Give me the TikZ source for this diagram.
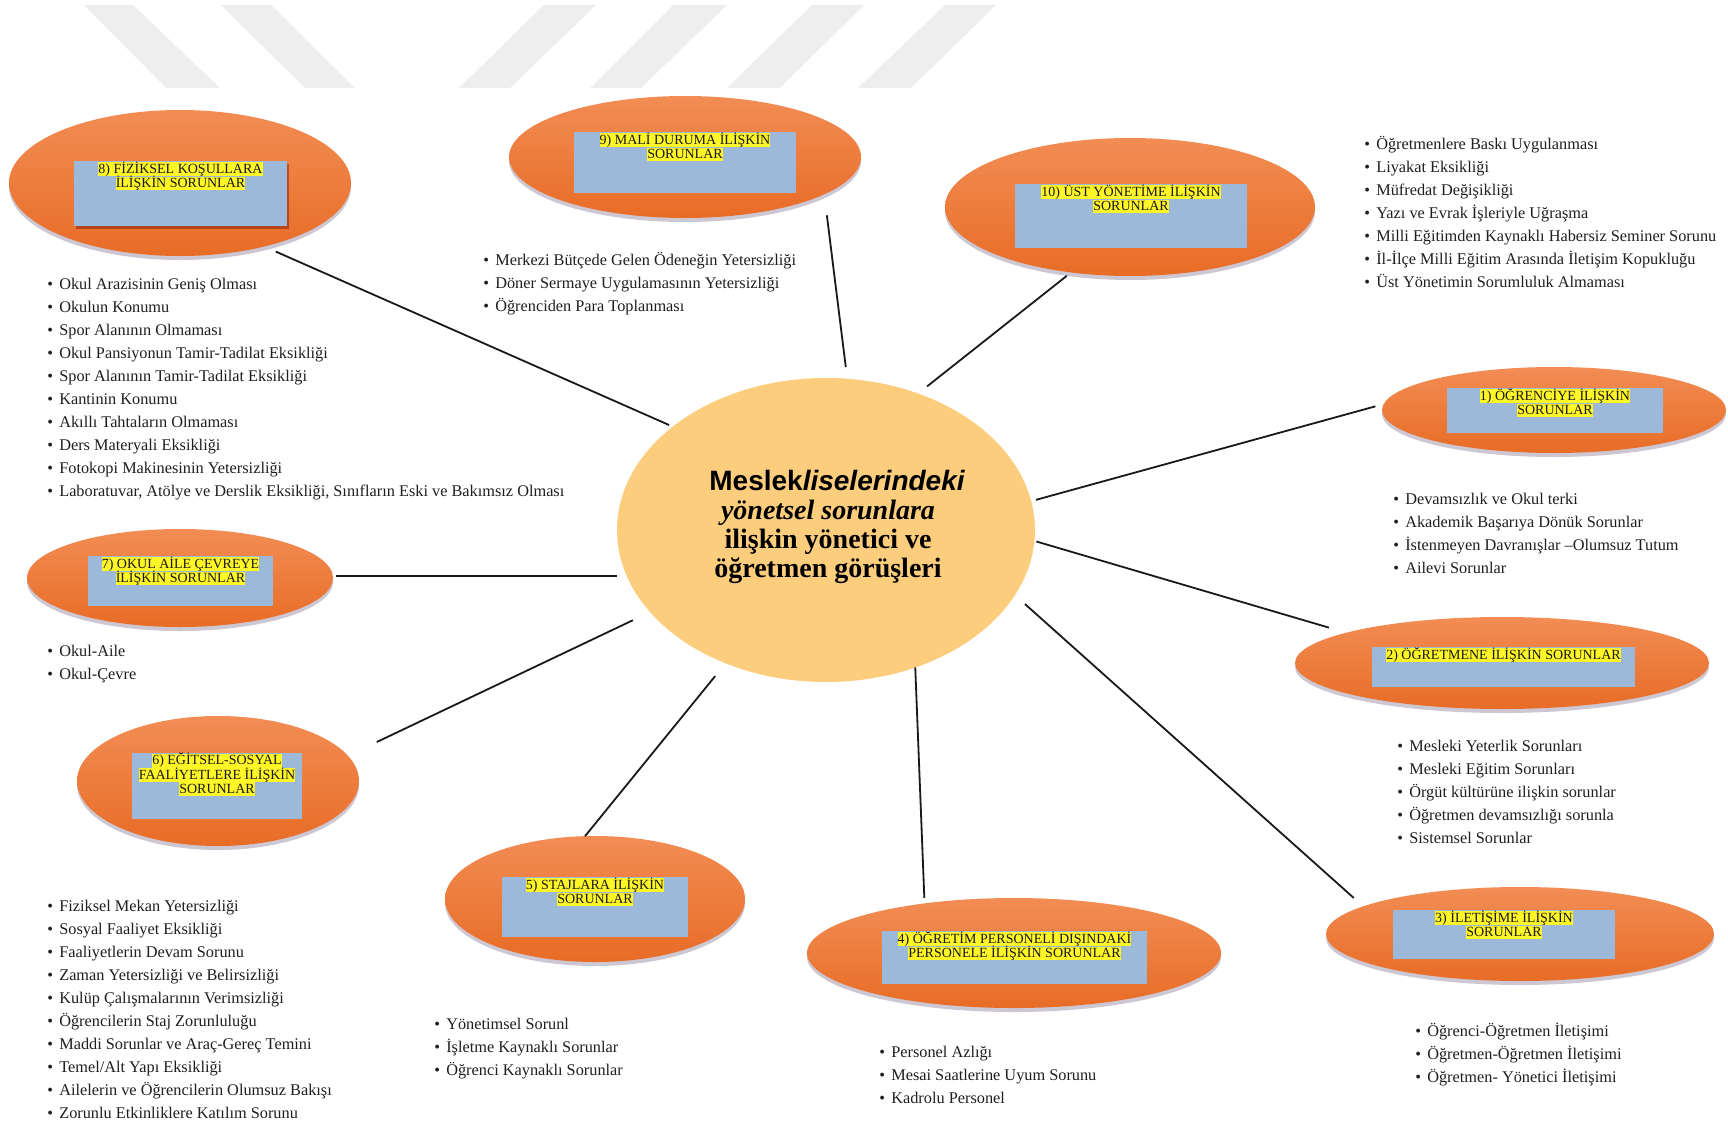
\documentclass[tikz,border=0pt]{standalone}
\usepackage{fontspec}
\setmainfont{Liberation Serif}
\newfontfamily\arialfont{Liberation Sans}
\usetikzlibrary{shadows,shapes.geometric}
\definecolor{otop}{RGB}{242,141,84}
\definecolor{obot}{RGB}{232,108,38}
\definecolor{cfill}{RGB}{252,205,124}
\definecolor{rblue}{RGB}{156,185,218}
\definecolor{hly}{RGB}{255,246,40}
\definecolor{wm}{RGB}{238,238,238}
\definecolor{shad}{RGB}{90,70,110}
\newcommand\hlt[1]{{\setlength\fboxsep{0pt}\colorbox{hly}{\vrule height 5.5pt depth 1.4pt width 0pt\smash{#1}}}}
\newcommand\bli[1]{\strut\textbullet\hspace{0.38em}#1}
\tikzset{
  subell/.style={ellipse, inner sep=0pt, outer sep=0pt, top color=otop, bottom color=obot,
    drop shadow={opacity=0.3, shadow xshift=0pt, shadow yshift=-2pt, fill=shad}},
  blrect/.style={rectangle, fill=rblue, inner sep=0pt, outer sep=0pt},
  lbl/.style={anchor=north, inner sep=0pt, align=center, font=\fontsize{7}{7.15}\selectfont, text=black!90},
  lst/.style={anchor=north west, inner sep=0pt, align=left, font=\fontsize{8.15}{11.5}\selectfont, text=black!88},
  conn/.style={draw=black!90, line width=0.9pt},
}
\begin{document}
\begin{tikzpicture}[x=0.5pt,y=-0.5pt]
\useasboundingbox (0,0) rectangle (1728,1124);
\fill[white] (0,0) rectangle (1728,1124);
% watermark stripes
\fill[wm] (84,5) -- (133,5) -- (220,88) -- (166,88) -- cycle;
\fill[wm] (221,5) -- (271,5) -- (355,88) -- (305,88) -- cycle;
\fill[wm] (544,5) -- (596,5) -- (510,88) -- (459,88) -- cycle;
\fill[wm] (673,5) -- (727,5) -- (641,88) -- (590,88) -- cycle;
\fill[wm] (812,5) -- (864,5) -- (780,88) -- (727,88) -- cycle;
\fill[wm] (945,5) -- (996,5) -- (911,88) -- (858,88) -- cycle;

% center
\node[ellipse, inner sep=0pt, outer sep=0pt, fill=cfill, minimum width=209pt, minimum height=152pt] (c) at (826,530) {};
\node[inner sep=0pt, align=center, font=\fontsize{14}{14.5}\selectfont] (ct) at (828,527)
 {\hspace*{9pt}{\arialfont\bfseries Meslek\itshape liselerindeki}\\
  {\bfseries\itshape yönetsel sorunlara}\\
  {\bfseries ilişkin yönetici ve}\\
  {\bfseries öğretmen görüşleri}};

% sub ellipses
\node[subell, minimum width=171pt, minimum height=73pt] (e8) at (180,183) {};
\node[subell, minimum width=176pt, minimum height=61pt] (e9) at (685,157) {};
\node[subell, minimum width=185pt, minimum height=69pt] (e10) at (1130,207) {};
\node[subell, minimum width=172pt, minimum height=43pt] (e1) at (1554,410) {};
\node[subell, minimum width=207pt, minimum height=46pt] (e2) at (1502,663) {};
\node[subell, minimum width=194pt, minimum height=47pt] (e3) at (1520,934) {};
\node[subell, minimum width=207pt, minimum height=55pt] (e4) at (1014,953) {};
\node[subell, minimum width=150pt, minimum height=63pt] (e5) at (595,899) {};
\node[subell, minimum width=141pt, minimum height=65pt] (e6) at (218,781) {};
\node[subell, minimum width=153pt, minimum height=49pt] (e7) at (180,578) {};

% rectangles
\node[blrect, minimum width=106.5pt, minimum height=32.5pt, drop shadow={opacity=0.4, shadow xshift=1pt, shadow yshift=-1.5pt, fill=black!60!red}] (r8) at (180.5,193.5) {};
\node[blrect, minimum width=111pt, minimum height=30.5pt] (r9) at (685,162.5) {};
\node[blrect, minimum width=116pt, minimum height=32pt] (r10) at (1131,216) {};
\node[blrect, minimum width=108pt, minimum height=22.5pt] (r1) at (1555,410.5) {};
\node[blrect, minimum width=131.5pt, minimum height=20pt] (r2) at (1503.5,667) {};
\node[blrect, minimum width=111pt, minimum height=24.5pt] (r3) at (1504,934.5) {};
\node[blrect, minimum width=132.5pt, minimum height=26.5pt] (r4) at (1014.5,957.5) {};
\node[blrect, minimum width=93pt, minimum height=30pt] (r5) at (595,907) {};
\node[blrect, minimum width=85pt, minimum height=33pt] (r6) at (217,786) {};
\node[blrect, minimum width=92.5pt, minimum height=25pt] (r7) at (180.5,581) {};

% labels
\node[lbl] (t8) at ([yshift=-0.45pt]r8.north) {\hlt{8) FİZİKSEL KOŞULLARA}\\\hlt{İLİŞKİN SORUNLAR}};
\node[lbl] (t9) at ([yshift=-0.45pt]r9.north) {\hlt{9) MALİ DURUMA İLİŞKİN}\\\hlt{SORUNLAR}};
\node[lbl] (t10) at ([yshift=-0.45pt]r10.north) {\hlt{10) ÜST YÖNETİME İLİŞKİN}\\\hlt{SORUNLAR}};
\node[lbl] (t1) at ([yshift=-0.45pt]r1.north) {\hlt{1) ÖĞRENCİYE İLİŞKİN}\\\hlt{SORUNLAR}};
\node[lbl] (t2) at ([yshift=-0.45pt]r2.north) {\hlt{2) ÖĞRETMENE İLİŞKİN SORUNLAR}};
\node[lbl] (t3) at ([yshift=-0.45pt]r3.north) {\hlt{3) İLETİŞİME İLİŞKİN}\\\hlt{SORUNLAR}};
\node[lbl] (t4) at ([yshift=-0.45pt]r4.north) {\hlt{4) ÖĞRETİM PERSONELİ DIŞINDAKİ}\\\hlt{PERSONELE İLİŞKİN SORUNLAR}};
\node[lbl] (t5) at ([yshift=-0.45pt]r5.north) {\hlt{5) STAJLARA İLİŞKİN}\\\hlt{SORUNLAR}};
\node[lbl] (t6) at ([yshift=-0.2pt]r6.north) {\hlt{6) EĞİTSEL-SOSYAL}\\\hlt{FAALİYETLERE İLİŞKİN}\\\hlt{SORUNLAR}};
\node[lbl] (t7) at ([yshift=-0.45pt]r7.north) {\hlt{7) OKUL AİLE ÇEVREYE}\\\hlt{İLİŞKİN SORUNLAR}};

% connectors
\draw[conn, shorten <=2pt, shorten >=6.25pt] (c.146.4) -- (e8.-37.8);
\draw[conn, shorten <=5.9pt, shorten >=10.6pt] (c.82.3) -- (e9.-15.6);
\draw[conn, shorten <=5.75pt, shorten >=2.75pt] (c.56.4) -- (e10.228.7);
\draw[conn, shorten <=2.5pt, shorten >=4.3pt] (c.8.2) -- (e1.178.6);
\draw[conn, shorten <=1pt, shorten >=9pt] (c.-3.7) -- (e2.169.2);
\draw[conn, shorten <=6.75pt, shorten >=6.3pt] (c.-19) -- (e3.170.1);
\draw[conn, shorten >=2.8pt] (c.-57.5) -- (e4.151.5);
\draw[conn, shorten <=8.25pt] (c.233.8) -- (e5.99.9);
\draw[conn, shorten <=9.5pt, shorten >=16pt] (c.205) -- (e6.11.6);
\draw[conn, shorten <=5pt, shorten >=1.5pt] (c.193) -- (c.193 -| e7.east);

% lists
\node[lst] (l8) at (47,272.5) {\bli{Okul Arazisinin Geniş Olması}\\\bli{Okulun Konumu}\\\bli{Spor Alanının Olmaması}\\\bli{Okul Pansiyonun Tamir-Tadilat Eksikliği}\\\bli{Spor Alanının Tamir-Tadilat Eksikliği}\\\bli{Kantinin Konumu}\\\bli{Akıllı Tahtaların Olmaması}\\\bli{Ders Materyali Eksikliği}\\\bli{Fotokopi Makinesinin Yetersizliği}\\\bli{Laboratuvar, Atölye ve Derslik Eksikliği, Sınıfların Eski ve Bakımsız Olması}};
\node[lst] (l9) at (483,248.5) {\bli{Merkezi Bütçede Gelen Ödeneğin Yetersizliği}\\\bli{Döner Sermaye Uygulamasının Yetersizliği}\\\bli{Öğrenciden Para Toplanması}};
\node[lst] (l10) at (1364,132.8) {\bli{Öğretmenlere Baskı Uygulanması}\\\bli{Liyakat Eksikliği}\\\bli{Müfredat Değişikliği}\\\bli{Yazı ve Evrak İşleriyle Uğraşma}\\\bli{Milli Eğitimden Kaynaklı Habersiz Seminer Sorunu}\\\bli{İl-İlçe Milli Eğitim Arasında İletişim Kopukluğu}\\\bli{Üst Yönetimin Sorumluluk Almaması}};
\node[lst] (l1) at (1393,487.5) {\bli{Devamsızlık ve Okul terki}\\\bli{Akademik Başarıya Dönük Sorunlar}\\\bli{İstenmeyen Davranışlar –Olumsuz Tutum}\\\bli{Ailevi Sorunlar}};
\node[lst] (l2) at (1397,734.5) {\bli{Mesleki Yeterlik Sorunları}\\\bli{Mesleki Eğitim Sorunları}\\\bli{Örgüt kültürüne ilişkin sorunlar}\\\bli{Öğretmen devamsızlığı sorunla}\\\bli{Sistemsel Sorunlar}};
\node[lst] (l7) at (47,639.5) {\bli{Okul-Aile}\\\bli{Okul-Çevre}};
\node[lst] (l6) at (47,894.5) {\bli{Fiziksel Mekan Yetersizliği}\\\bli{Sosyal Faaliyet Eksikliği}\\\bli{Faaliyetlerin Devam Sorunu}\\\bli{Zaman Yetersizliği ve Belirsizliği}\\\bli{Kulüp Çalışmalarının Verimsizliği}\\\bli{Öğrencilerin Staj Zorunluluğu}\\\bli{Maddi Sorunlar ve Araç-Gereç Temini}\\\bli{Temel/Alt Yapı Eksikliği}\\\bli{Ailelerin ve Öğrencilerin Olumsuz Bakışı}\\\bli{Zorunlu Etkinliklere Katılım Sorunu}};
\node[lst] (l5) at (434,1012.5) {\bli{Yönetimsel Sorunl}\\\bli{İşletme Kaynaklı Sorunlar}\\\bli{Öğrenci Kaynaklı Sorunlar}};
\node[lst] (l4) at (879,1040.5) {\bli{Personel Azlığı}\\\bli{Mesai Saatlerine Uyum Sorunu}\\\bli{Kadrolu Personel}};
\node[lst] (l3) at (1415,1019.5) {\bli{Öğrenci-Öğretmen İletişimi}\\\bli{Öğretmen-Öğretmen İletişimi}\\\bli{Öğretmen- Yönetici İletişimi}};
\end{tikzpicture}
\end{document}
